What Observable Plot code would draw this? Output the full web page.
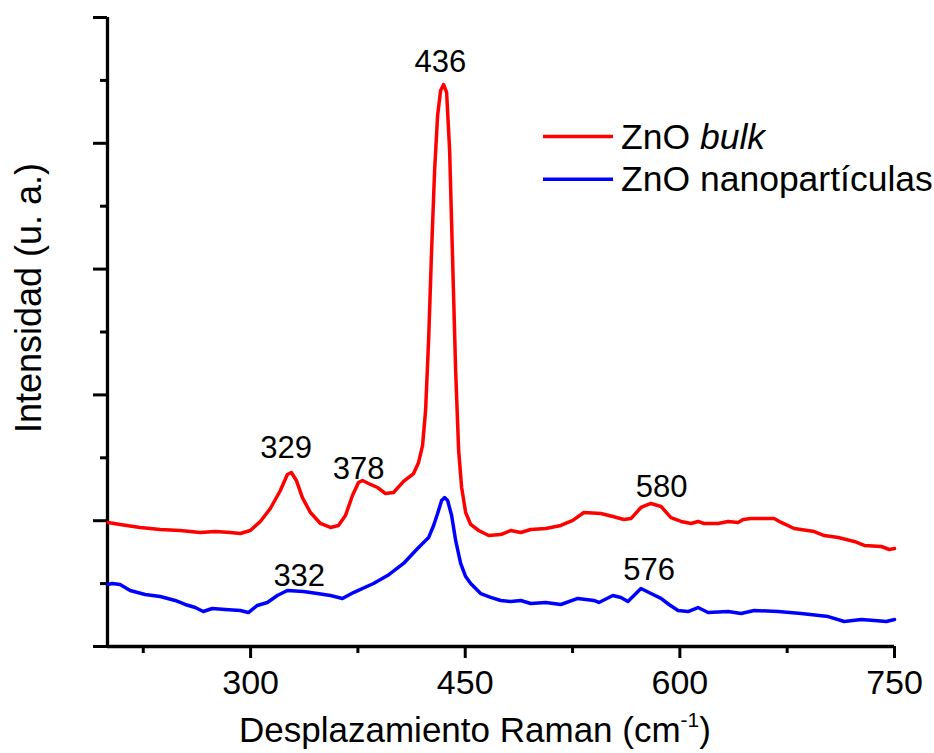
<!DOCTYPE html>
<html>
<head>
<meta charset="utf-8">
<script src="https://cdn.jsdelivr.net/npm/d3@7"></script>
<script src="https://cdn.jsdelivr.net/npm/@observablehq/plot@0.6"></script>
<style>
  html, body { margin: 0; padding: 0; background: #fff; }
  #chart { width: 934px; height: 753px; }
</style>
</head>
<body>
<div id="chart"></div>
<script>
// ZnO bulk (red)
const bulkShift = [200.4,208.8,222.8,236.8,250.8,264.8,275.3,285.8,292.8,299.8,306.8,313.8,320.8,325.7,328.5,332.0,336.2,341.8,348.8,355.8,361.4,366.3,371.2,375.4,378.2,383.8,388.7,394.3,399.9,406.9,413.9,417.4,420.2,422.3,424.4,426.5,428.6,430.7,432.8,434.9,437.0,439.1,441.2,443.3,445.4,447.5,450.3,453.8,459.4,466.4,474.8,481.8,488.8,495.8,506.3,516.8,525.2,532.9,544.8,553.2,560.9,565.8,572.8,579.8,586.8,593.8,600.8,607.8,612.7,616.9,626.7,633.7,640.7,644.2,649.8,665.9,670.8,679.9,693.9,700.9,710.7,721.9,728.9,740.8,746.4,750.0];
const bulkIntensity = [0.986,0.970,0.946,0.930,0.922,0.906,0.914,0.906,0.898,0.922,0.994,1.097,1.240,1.367,1.383,1.320,1.184,1.065,0.978,0.946,0.962,1.041,1.200,1.304,1.320,1.288,1.264,1.216,1.224,1.312,1.375,1.463,1.598,1.876,2.432,3.148,3.784,4.221,4.420,4.467,4.404,3.943,3.068,2.194,1.558,1.264,1.065,0.970,0.922,0.882,0.890,0.922,0.906,0.930,0.938,0.962,1.002,1.065,1.057,1.033,1.010,1.017,1.105,1.137,1.113,1.025,0.994,0.978,0.994,0.978,0.978,0.994,0.986,1.010,1.017,1.017,0.986,0.938,0.914,0.882,0.866,0.835,0.803,0.795,0.771,0.779];

// ZnO nanopartículas (blue)
const nanoShift = [200.4,203.2,208.8,215.8,226.3,236.8,247.3,254.3,261.3,266.9,273.2,282.3,292.8,298.4,304.7,311.7,318.7,325.7,336.9,346.7,355.8,364.2,371.9,385.9,395.7,406.9,416.7,424.4,427.9,430.7,433.5,435.6,437.7,440.5,443.3,446.8,450.3,453.8,460.8,467.8,474.8,481.8,488.8,495.8,506.3,516.8,528.7,539.9,543.4,553.2,558.8,563.7,572.8,579.8,586.8,592.4,598.7,605.7,612.7,619.7,633.7,642.8,651.9,668.7,684.8,703.7,714.9,726.8,735.9,744.3,750.0];
const nanoIntensity = [0.493,0.501,0.493,0.445,0.413,0.397,0.366,0.334,0.310,0.278,0.302,0.294,0.286,0.270,0.326,0.350,0.405,0.445,0.437,0.421,0.405,0.382,0.429,0.501,0.564,0.660,0.779,0.866,0.962,1.057,1.161,1.184,1.161,1.041,0.843,0.660,0.556,0.501,0.421,0.390,0.366,0.358,0.366,0.342,0.350,0.334,0.382,0.366,0.350,0.405,0.390,0.358,0.461,0.421,0.382,0.334,0.286,0.278,0.310,0.270,0.278,0.262,0.286,0.278,0.262,0.238,0.199,0.215,0.207,0.199,0.215];

// Peak annotations
const peakText = ["436", "329", "378", "580", "332", "576"];
const peakLabelShift = [432.7, 324.9, 375.5, 587.2, 334.0, 578.5];
const peakLabelIntensity = [4.645, 1.577, 1.412, 1.267, 0.556, 0.604];

// Axes
const xDomain = [200, 750];
const yDomain = [0, 5];
const xMajorTicks = [300, 450, 600, 750];
const xMinorTicks = [225, 375, 525, 675];
const yMajorTicks = [0, 1, 2, 3, 4, 5];
const yMinorTicks = [0.5, 1.5, 2.5, 3.5, 4.5];

const seriesNames = ["ZnO bulk", "ZnO nanopartículas"];
const seriesColors = ["#ff0000", "#0000ff"];

const bulk = bulkShift.map((x, i) => ({x, y: bulkIntensity[i]}));
const nano = nanoShift.map((x, i) => ({x, y: nanoIntensity[i]}));
const peaks = peakText.map((t, i) => ({t, x: peakLabelShift[i], y: peakLabelIntensity[i]}));

const FONT = "'Liberation Sans', Arial, Helvetica, sans-serif";
const blank = () => "";

const chart = Plot.plot({
  width: 934,
  height: 753,
  marginLeft: 107,
  marginRight: 40,
  marginTop: 17,
  marginBottom: 107,
  style: {fontFamily: FONT, background: "white", color: "black", overflow: "visible"},
  x: {domain: xDomain},
  y: {domain: yDomain},
  marks: [
    Plot.axisX(xMajorTicks, {tickSize: 12, tickPadding: 11, fontSize: 34, strokeWidth: 3, label: null}),
    Plot.axisX(xMinorTicks, {tickSize: 7, tickFormat: blank, strokeWidth: 3, label: null}),
    Plot.axisY(yMajorTicks, {tickSize: 14, tickFormat: blank, strokeWidth: 3, label: null}),
    Plot.axisY(yMinorTicks, {tickSize: 7, tickFormat: blank, strokeWidth: 3, label: null}),
    Plot.ruleX([xDomain[0]], {strokeWidth: 3.3}),
    Plot.ruleY([yDomain[0]], {strokeWidth: 3.3}),
    Plot.line(nano, {x: "x", y: "y", stroke: seriesColors[1], strokeWidth: 3.5, strokeLinejoin: "round"}),
    Plot.line(bulk, {x: "x", y: "y", stroke: seriesColors[0], strokeWidth: 3.5, strokeLinejoin: "round"}),
    Plot.text(peaks, {x: "x", y: "y", text: "t", fontSize: 31, fill: "black"})
  ]
});

const svg = d3.select(chart);

// X title with superscript
const xt = svg.append("text")
  .attr("x", 475).attr("y", 742)
  .attr("text-anchor", "middle")
  .attr("font-family", FONT)
  .attr("font-size", 35)
  .attr("fill", "black");
xt.append("tspan").text("Desplazamiento Raman (cm");
xt.append("tspan").attr("font-size", 21).attr("dy", -15).text("-1");
xt.append("tspan").attr("dy", 15).text(")");

// Y title
svg.append("text")
  .attr("transform", "translate(41,298) rotate(-90)")
  .attr("text-anchor", "middle")
  .attr("font-family", FONT)
  .attr("font-size", 36)
  .attr("fill", "black")
  .text("Intensidad (u. a.)");

// Legend
const legendY = [136.5, 179.3];
seriesNames.forEach((name, i) => {
  svg.append("line")
    .attr("x1", 543).attr("x2", 613)
    .attr("y1", legendY[i]).attr("y2", legendY[i])
    .attr("stroke", seriesColors[i]).attr("stroke-width", 3.5);
  const t = svg.append("text")
    .attr("x", 621).attr("y", legendY[i] + 12)
    .attr("text-anchor", "start")
    .attr("font-family", FONT).attr("font-size", 35.5).attr("fill", "black");
  if (i === 0) {
    t.append("tspan").text("ZnO ");
    t.append("tspan").attr("font-style", "italic").text("bulk");
  } else {
    t.text(name);
  }
});

document.getElementById("chart").appendChild(chart);
</script>
</body>
</html>
